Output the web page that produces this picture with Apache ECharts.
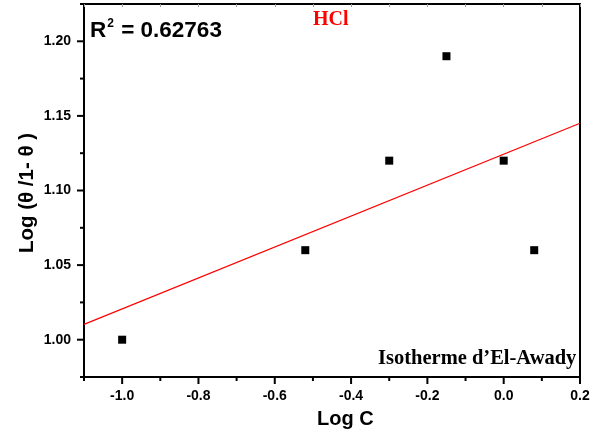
<!DOCTYPE html>
<html>
<head>
<meta charset="utf-8">
<script src="https://cdn.jsdelivr.net/npm/echarts@6/dist/echarts.min.js"></script>
<style>
  html, body { margin: 0; padding: 0; background: #fff; }
  #chart { width: 602px; height: 435px; }
</style>
</head>
<body>
<div id="chart"></div>
<script>
// data
const logC = [-1.0, -0.52, -0.30, -0.15, 0.0, 0.08];
const logTheta = [1.00, 1.06, 1.12, 1.19, 1.12, 1.06];
// fitted line, ends of the plot range
const fitX = [-1.1, 0.2];
const fitY = [1.0103, 1.1451];
const xLabels = [-1.0, -0.8, -0.6, -0.4, -0.2, 0.0, 0.2];
const xMinor = [-1.1, -0.9, -0.7, -0.5, -0.3, -0.1, 0.1];
const yLabels = [1.00, 1.05, 1.10, 1.15, 1.20];
const yMinor = [0.975, 1.025, 1.075, 1.125, 1.175, 1.225];
const X_MIN = -1.1, Y_MIN = 0.975;

const chart = echarts.init(document.getElementById("chart"));

const labelFont = { fontFamily: "Liberation Sans", fontWeight: "bold", fontSize: 14, color: "#000" };
const axisLineStyle = { color: "#000", width: 2 };

// tick marks as small bars sitting outside the axis lines
function tickSeries(data, size, offset) {
    return {
        type: "scatter", data: data, symbol: "rect", symbolSize: size, symbolOffset: offset,
        itemStyle: { color: "#000", opacity: 1 }, silent: true, clip: false, z: 1
    };
}

chart.setOption({
    animation: false,
    grid: { left: 84, right: 22, top: 4, bottom: 58 },
    xAxis: [
        {
            type: "value", min: -1.1, max: 0.2, position: "bottom",
            axisLine: { show: true, onZero: false, lineStyle: axisLineStyle },
            axisTick: { show: false },
            axisLabel: Object.assign({ margin: 12, customValues: xLabels, formatter: v => v.toFixed(1) }, labelFont),
            splitLine: { show: false }
        },
        {
            type: "value", min: -1.1, max: 0.2, interval: 0.1, position: "top",
            axisLine: { show: true, onZero: false, lineStyle: axisLineStyle },
            axisTick: { show: true, inside: true, length: 3, lineStyle: { color: "#999", width: 1 } },
            axisLabel: { show: false },
            splitLine: { show: false }
        }
    ],
    yAxis: [
        {
            type: "value", min: 0.975, max: 1.225, position: "left",
            axisLine: { show: true, onZero: false, lineStyle: axisLineStyle },
            axisTick: { show: false },
            axisLabel: Object.assign({ margin: 13, customValues: yLabels, formatter: v => v.toFixed(2) }, labelFont),
            splitLine: { show: false }
        },
        {
            type: "value", min: 0.975, max: 1.225, position: "right",
            axisLine: { show: true, onZero: false, lineStyle: axisLineStyle },
            axisTick: { show: false },
            axisLabel: { show: false },
            splitLine: { show: false }
        }
    ],
    series: [
        {
            type: "line",
            data: fitX.map((x, i) => [x, fitY[i]]),
            showSymbol: false,
            lineStyle: { color: "#ff0000", width: 1.2 },
            z: 2
        },
        {
            type: "scatter",
            data: logC.map((x, i) => [x, logTheta[i]]),
            symbol: "rect",
            symbolSize: 8,
            itemStyle: { color: "#000", opacity: 1 },
            z: 3
        },
        tickSeries(xLabels.map(x => [x, Y_MIN]), [2, 7], [0, 3.5]),
        tickSeries(xMinor.map(x => [x, Y_MIN]), [2, 4], [0, 2]),
        tickSeries(yLabels.map(y => [X_MIN, y]), [7, 2], [-3.5, 0]),
        tickSeries(yMinor.map(y => [X_MIN, y]), [4, 2], [-2, 0])
    ],
    graphic: [
        {
            type: "text", left: 90, top: 18,
            style: {
                text: "{b|R}{s|2}{b| = 0.62763}",
                rich: {
                    b: { fontFamily: "Liberation Sans", fontWeight: "bold", fontSize: 22.5, fill: "#000", verticalAlign: "bottom" },
                    s: { fontFamily: "Liberation Sans", fontWeight: "bold", fontSize: 12, fill: "#000", verticalAlign: "top", padding: [0, 1, 12, 1] }
                }
            }
        },
        {
            type: "text", left: 313, top: 10,
            style: { text: "HCl", fontFamily: "Liberation Serif", fontWeight: "bold", fontSize: 20, fill: "#ff0000" }
        },
        {
            type: "text", left: 378, top: 348,
            style: { text: "Isotherme d\u2019El-Awady", fontFamily: "Liberation Serif", fontWeight: "bold", fontSize: 20.5, fill: "#000" }
        },
        {
            type: "text", left: 317, top: 409,
            style: { text: "Log C", fontFamily: "Liberation Sans", fontWeight: "bold", fontSize: 20, fill: "#000" }
        },
        {
            type: "text", x: 27, y: 193, rotation: Math.PI / 2,
            style: { text: "Log (\u03b8 /1- \u03b8 )", fontFamily: "Liberation Sans", fontWeight: "bold", fontSize: 20.5, fill: "#000", align: "center", verticalAlign: "middle" }
        }
    ]
});
</script>
</body>
</html>
